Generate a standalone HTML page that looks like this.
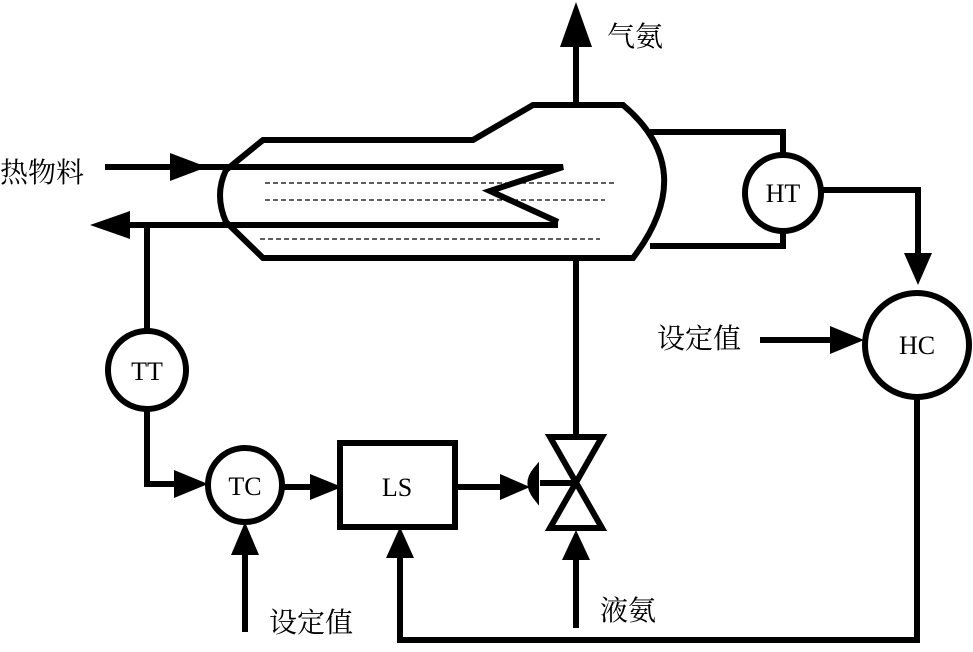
<!DOCTYPE html>
<html><head><meta charset="utf-8"><style>html,body{margin:0;padding:0;background:#fff}svg{display:block}</style></head><body>
<svg width="973" height="652" viewBox="0 0 973 652" xmlns="http://www.w3.org/2000/svg">
<defs>
<marker id="a" markerWidth="8" markerHeight="8" refX="7" refY="4" orient="auto" markerUnits="userSpaceOnUse" viewBox="0 0 8 8"><path d="M0,0 L8,4 L0,8 z" fill="#000"/></marker>
</defs>
<g fill="none" stroke="#000" stroke-width="6" stroke-linejoin="miter">
<!-- vessel -->
<path d="M263,140 L473,140 L533,105 L623,105 Q700,170 633,258 L263,258 L226,222 Q214,195 226,170 Z"/>
<!-- tube -->
<path d="M105,167 L563,167 L490,191 L558,222"/>
<path d="M558,225 L130,225"/>
<!-- gas outlet -->
<path d="M576,105 L576,45"/>
<!-- stem -->
<path d="M576,258 L576,437"/>
<!-- valve -->
<path d="M550,437 L602,437 L550,528 L602,528 Z"/>
<path d="M576,483 L540,483"/>
<path d="M536,470 Q525,483 536,497 Z"/>
<!-- HT -->
<path d="M650,132 L783,132 L783,155"/>
<path d="M650,246 L783,246 L783,231"/>
<circle cx="783" cy="193" r="38"/>
<path d="M821,190 L918,190 L918,255"/>
<circle cx="917" cy="345" r="52"/>
<path d="M760,340 L835,340"/>
<path d="M917,397 L917,640 L400,640 L400,555"/>
<!-- TT -->
<path d="M147,225 L147,332"/>
<circle cx="147" cy="370" r="39"/>
<path d="M147,409 L147,484 L180,484"/>
<circle cx="245" cy="485" r="37"/>
<path d="M282,487 L315,487"/>
<rect x="340" y="443" width="115" height="84"/>
<path d="M245,632 L245,552"/>
<path d="M458,487 L505,487"/>
<path d="M576,628 L576,555"/>
</g>
<g fill="#000">
<path d="M170,153 L207,167 L170,181 Z"/>
<path d="M90,225 L130,211 L130,239 Z"/>
<path d="M576,2 L560,47 L592,47 Z"/>
<path d="M918,285 L904,253 L932,253 Z"/>
<path d="M864,340 L830,326 L830,354 Z"/>
<path d="M208,484 L174,470 L174,498 Z"/>
<path d="M342,487 L310,474 L310,500 Z"/>
<path d="M530,487 L500,474 L500,500 Z"/>
<path d="M400,527 L386,558 L414,558 Z"/>
<path d="M245,522 L231,555 L259,555 Z"/>
<path d="M576,530 L562,560 L590,560 Z"/>
</g>
<g fill="none" stroke="#000" stroke-width="1.2" stroke-dasharray="5,3">
<path d="M265,183 L616,183"/><path d="M265,200 L605,200"/><path d="M260,239 L600,239"/>
</g>
<g font-family="Liberation Serif, serif" font-size="26" text-anchor="middle">
<text x="783" y="202">HT</text>
<text x="917" y="354">HC</text>
<text x="147" y="380">TT</text>
<text x="245" y="495">TC</text>
<text x="397" y="496">LS</text>
</g>
<g font-family="Liberation Serif, 'Noto Serif CJK SC', serif" font-size="28">
<text x="607" y="46">气氨</text>
<text x="0" y="182">热物料</text>
<text x="657" y="348">设定值</text>
<text x="269" y="632">设定值</text>
<text x="600" y="620">液氨</text>
</g>
</svg>
</body></html>
